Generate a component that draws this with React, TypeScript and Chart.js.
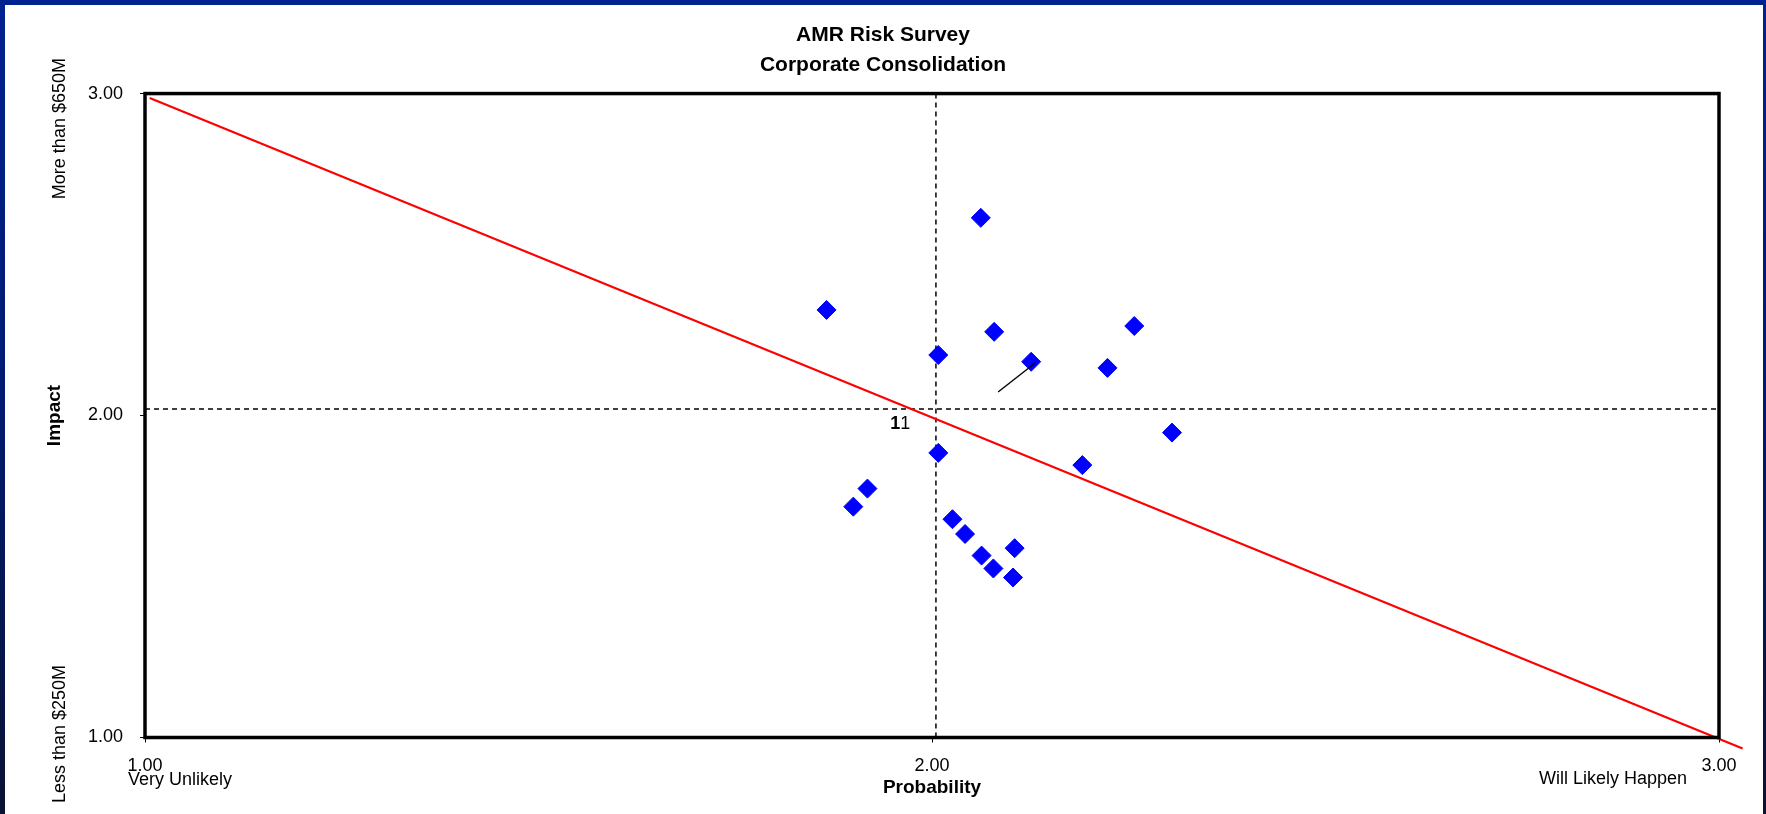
import React, { useEffect, useRef } from 'react';
import { Chart, registerables } from 'chart.js';

Chart.register(...registerables);

// ---- data ----
const probability = [2.062, 1.866, 2.079, 2.257, 2.008, 2.126, 2.223, 2.305, 2.191, 2.008, 1.918, 1.9, 2.026, 2.042, 2.063, 2.105, 2.078, 2.103];
const impact = [2.614, 2.328, 2.26, 2.278, 2.188, 2.167, 2.148, 1.947, 1.846, 1.884, 1.773, 1.717, 1.678, 1.632, 1.565, 1.588, 1.525, 1.497];

const trendX = [1.006, 3.03];
const trendY = [2.986, 0.966];

const avgProbability = 2.005;
const avgImpact = 2.02;

const leaderX = [2.084, 2.131];
const leaderY = [2.073, 2.163];

const axisTicks = [1, 2, 3];
const axisMin = 1;
const axisMax = 3;

const titleLines = ['AMR Risk Survey', 'Corporate Consolidation'];
const xAxisTitle = 'Probability';
const yAxisTitle = 'Impact';
const xEndLabels = ['Very Unlikely', 'Will Likely Happen'];
const yEndLabels = ['Less than $250M', 'More than $650M'];
const pointLabelText = ['1', '1'];
const pointLabelPos = { x: 1.947, y: 1.974 };

const FONT = 'Arial, "Liberation Sans", Helvetica, sans-serif';

const framePlugin = {
  id: 'frame',
  beforeDraw(chart: any) {
    const { ctx, width, height } = chart;
    ctx.save();
    const g = ctx.createLinearGradient(0, 0, 0, height);
    g.addColorStop(0, '#002290');
    g.addColorStop(0.5, '#001a70');
    g.addColorStop(1, '#0a1232');
    ctx.fillStyle = g;
    ctx.fillRect(0, 0, width, height);
    ctx.fillStyle = '#ffffff';
    ctx.fillRect(5, 5, width - 8, height - 5);
    ctx.restore();
  },
};

const decorPlugin = {
  id: 'decor',
  afterDraw(chart: any) {
    const { ctx, chartArea } = chart;
    const { left, right, top, bottom } = chartArea;
    ctx.save();
    // plot frame
    ctx.strokeStyle = '#000';
    ctx.lineWidth = 3.5;
    ctx.strokeRect(left, top, right - left, bottom - top);

    ctx.fillStyle = '#000';
    ctx.font = `18px ${FONT}`;
    ctx.textBaseline = 'middle';
    ctx.textAlign = 'left';
    ctx.fillText(xEndLabels[0], left - 17, bottom + 42.5);
    ctx.textAlign = 'right';
    ctx.fillText(xEndLabels[1], right - 32, bottom + 41.5);

    // rotated y end labels
    ctx.save();
    ctx.translate(60, bottom + 65.5);
    ctx.rotate(-Math.PI / 2);
    ctx.textAlign = 'left';
    ctx.fillText(yEndLabels[0], 0, 0);
    ctx.restore();
    ctx.save();
    ctx.translate(60, top - 35.5);
    ctx.rotate(-Math.PI / 2);
    ctx.textAlign = 'right';
    ctx.fillText(yEndLabels[1], 0, 0);
    ctx.restore();

    // data label "11"
    const px = chart.scales.x.getPixelForValue(pointLabelPos.x);
    const py = chart.scales.y.getPixelForValue(pointLabelPos.y);
    ctx.textAlign = 'left';
    ctx.font = `bold 18px ${FONT}`;
    ctx.fillText(pointLabelText[0], px, py);
    const w = ctx.measureText(pointLabelText[0]).width;
    ctx.font = `18px ${FONT}`;
    ctx.fillText(pointLabelText[1], px + w, py);
    ctx.restore();
  },
};

export default function App() {
  const ref = useRef<HTMLCanvasElement | null>(null);

  useEffect(() => {
    if (!ref.current) return;
    const chart = new Chart(ref.current, {
      type: 'scatter',
      data: {
        datasets: [
          {
            label: 'Risks',
            data: probability.map((x, i) => ({ x, y: impact[i] })),
            pointStyle: 'rectRot',
            pointRadius: 9.5,
            pointBackgroundColor: '#0000ff',
            pointBorderColor: '#0000ff',
            pointBorderWidth: 1,
            showLine: false,
            order: 1,
          },
          {
            label: 'Trend',
            data: trendX.map((x, i) => ({ x, y: trendY[i] })),
            showLine: true,
            borderColor: '#ff0000',
            borderWidth: 2.2,
            pointRadius: 0,
            clip: false,
            order: 2,
          },
          {
            label: 'Avg probability',
            data: [
              { x: avgProbability, y: axisMin },
              { x: avgProbability, y: axisMax },
            ],
            showLine: true,
            borderColor: '#000',
            borderWidth: 1.5,
            borderDash: [5, 4],
            pointRadius: 0,
            order: 3,
          },
          {
            label: 'Avg impact',
            data: [
              { x: axisMin, y: avgImpact },
              { x: axisMax, y: avgImpact },
            ],
            showLine: true,
            borderColor: '#000',
            borderWidth: 1.5,
            borderDash: [5, 4],
            pointRadius: 0,
            order: 3,
          },
          {
            label: 'Leader',
            data: leaderX.map((x, i) => ({ x, y: leaderY[i] })),
            showLine: true,
            borderColor: '#000',
            borderWidth: 1.4,
            pointRadius: 0,
            order: 0,
          },
        ],
      },
      options: {
        responsive: false,
        animation: false,
        layout: { padding: { left: 47, right: 47, top: 0, bottom: 0 } },
        plugins: {
          legend: { display: false },
          tooltip: { enabled: false },
          title: {
            display: true,
            text: titleLines,
            color: '#000',
            font: { family: FONT, size: 21, weight: 'bold', lineHeight: 1.43 },
            padding: { top: 20, bottom: 13.5 },
          },
        },
        scales: {
          x: {
            type: 'linear',
            min: axisMin,
            max: axisMax,
            afterBuildTicks: (s: any) => {
              s.ticks = axisTicks.map((v) => ({ value: v }));
            },
            afterFit: (s: any) => {
              s.height = 76.5;
            },
            ticks: {
              color: '#000',
              font: { family: FONT, size: 18 },
              padding: 13,
              maxRotation: 0,
              autoSkip: false,
              callback: (v: any) => Number(v).toFixed(2),
            },
            grid: { drawOnChartArea: false, drawTicks: true, tickLength: 5, color: '#000' },
            border: { display: false },
            title: {
              display: true,
              text: xAxisTitle,
              color: '#000',
              font: { family: FONT, size: 19, weight: 'bold', lineHeight: 1.2 },
              padding: { top: 0, bottom: 15 },
            },
          },
          y: {
            type: 'linear',
            min: axisMin,
            max: axisMax,
            afterBuildTicks: (s: any) => {
              s.ticks = axisTicks.map((v) => ({ value: v }));
            },
            afterFit: (s: any) => {
              s.width = 98;
            },
            ticks: {
              color: '#000',
              font: { family: FONT, size: 18 },
              padding: 17,
              autoSkip: false,
              callback: (v: any) => Number(v).toFixed(2),
            },
            grid: { drawOnChartArea: false, drawTicks: true, tickLength: 5, color: '#000' },
            border: { display: false },
            title: {
              display: true,
              text: yAxisTitle,
              color: '#000',
              font: { family: FONT, size: 19, weight: 'bold', lineHeight: 1.2 },
              padding: { top: -3.5, bottom: 0 },
            },
          },
        },
      },
      plugins: [framePlugin, decorPlugin],
    });
    return () => chart.destroy();
  }, []);

  return (
    <div style={{ position: 'fixed', left: 0, top: 0, width: 1766, height: 814 }}>
      <canvas ref={ref} width={1766} height={814} style={{ display: 'block', width: 1766, height: 814 }} />
    </div>
  );
}
